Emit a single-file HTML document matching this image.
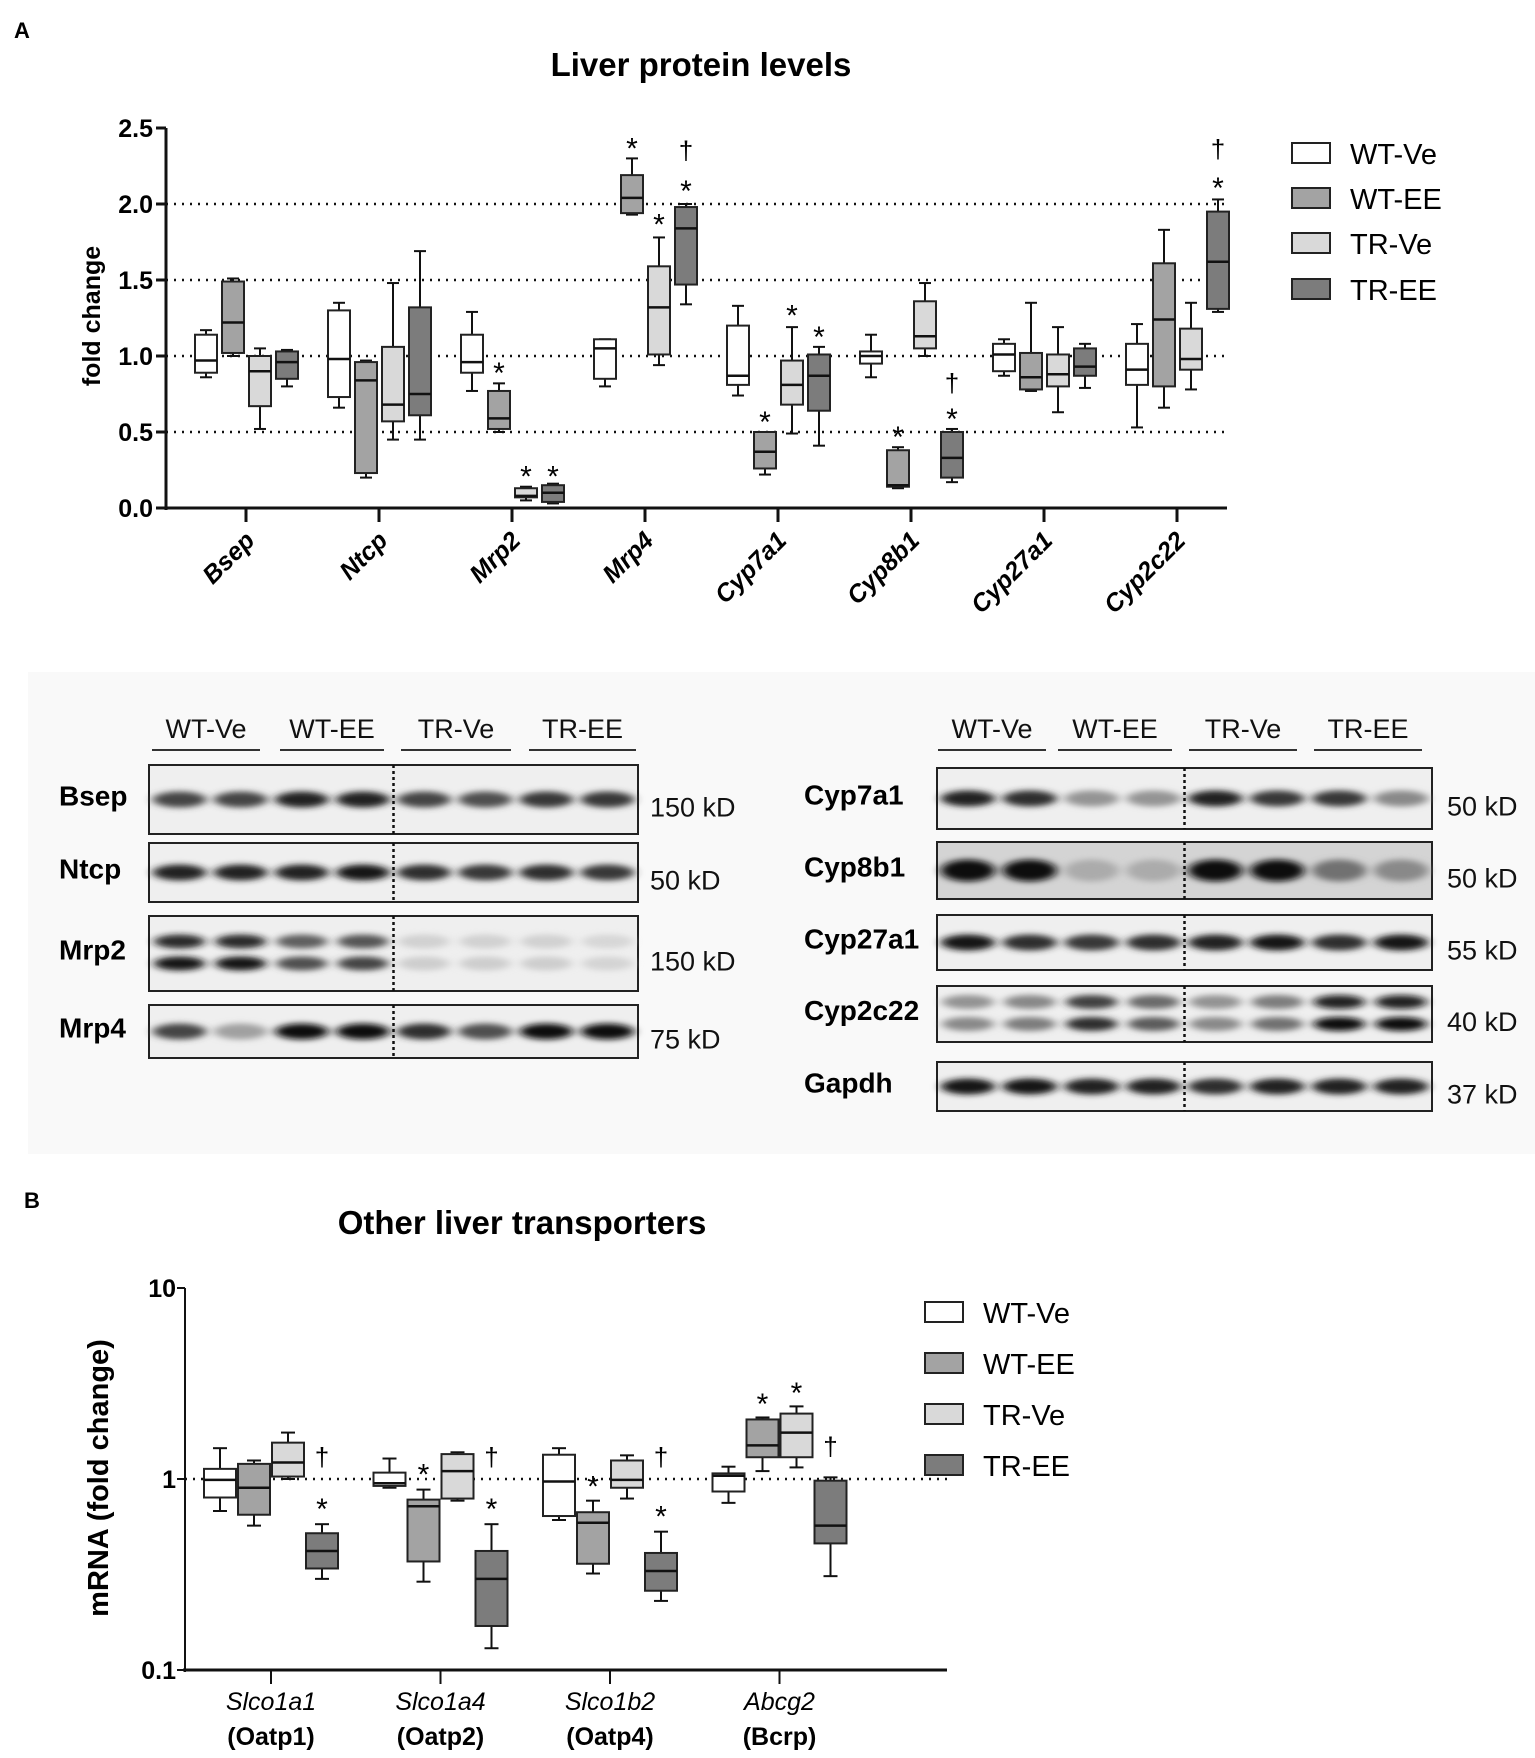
<!DOCTYPE html>
<html><head><meta charset="utf-8">
<style>
body{margin:0;background:#fff;}
svg{display:block;font-family:"Liberation Sans",Arial,sans-serif;}
</style></head>
<body>
<svg id="fig" width="1535" height="1758" viewBox="0 0 1535 1758">
<defs>
<filter id="blur" x="-30%" y="-100%" width="160%" height="300%"><feGaussianBlur stdDeviation="5 3"/></filter>
</defs>
<rect x="28" y="672" width="1507" height="482" fill="#f9f9f9"/>
<text x="14" y="38" font-size="22" font-weight="bold">A</text>
<text x="701" y="76" font-size="33" font-weight="bold" text-anchor="middle">Liver protein levels</text>
<text x="24" y="1208" font-size="22" font-weight="bold">B</text>
<text x="522" y="1234" font-size="33" font-weight="bold" text-anchor="middle">Other liver transporters</text>
<g id="chartA"></g>
<g id="chartB"></g>
<g id="blots"></g>
</svg>
<script>
const NS="http://www.w3.org/2000/svg";
function mk(p,tag,attrs,txt){const e=document.createElementNS(NS,tag);for(const k in attrs)e.setAttribute(k,attrs[k]);if(txt!==undefined)e.textContent=txt;p.appendChild(e);return e;}

const groups=["WT-Ve","WT-EE","TR-Ve","TR-EE"];
const fills=["#ffffff","#a3a3a3","#d9d9d9","#7c7c7c"];

// Chart A data
const catsA=["Bsep","Ntcp","Mrp2","Mrp4","Cyp7a1","Cyp8b1","Cyp27a1","Cyp2c22"];
const wtVeA=[[0.86,0.89,0.97,1.14,1.17],[0.66,0.73,0.98,1.30,1.35],[0.77,0.89,0.96,1.14,1.29],[0.80,0.85,1.05,1.11,1.11],[0.74,0.81,0.87,1.20,1.33],[0.86,0.95,1.00,1.03,1.14],[0.87,0.90,1.01,1.08,1.11],[0.53,0.81,0.91,1.08,1.21]];
const wtEeA=[[1.00,1.02,1.22,1.49,1.51],[0.20,0.23,0.84,0.96,0.97],[0.50,0.52,0.59,0.77,0.82],[1.93,1.94,2.04,2.19,2.30],[0.22,0.26,0.37,0.50,0.50],[0.13,0.14,0.15,0.38,0.40],[0.77,0.78,0.86,1.02,1.35],[0.66,0.80,1.24,1.61,1.83]];
const trVeA=[[0.52,0.67,0.90,1.00,1.05],[0.45,0.57,0.68,1.06,1.48],[0.05,0.07,0.08,0.13,0.14],[0.94,1.01,1.32,1.59,1.78],[0.49,0.68,0.81,0.97,1.19],[1.00,1.05,1.13,1.36,1.48],[0.63,0.80,0.88,1.01,1.19],[0.78,0.91,0.98,1.18,1.35]];
const trEeA=[[0.80,0.85,0.96,1.03,1.04],[0.45,0.61,0.75,1.32,1.69],[0.03,0.04,0.10,0.15,0.16],[1.34,1.47,1.84,1.98,2.00],[0.41,0.64,0.87,1.01,1.06],[0.17,0.20,0.33,0.50,0.52],[0.79,0.87,0.93,1.05,1.08],[1.29,1.31,1.62,1.95,2.03]];
const ticksA=[0,0.5,1.0,1.5,2.0,2.5];
const gridA=[0.5,1.0,1.5,2.0];
// annotations: [category index, group index, symbol, value]
const annA=[[2,1,"*",0.88],[2,2,"*",0.20],[2,3,"*",0.20],[3,1,"*",2.36],[3,2,"*",1.86],[3,3,"*",2.08],[3,3,"†",2.36],[4,1,"*",0.56],[4,2,"*",1.26],[4,3,"*",1.12],[5,1,"*",0.46],[5,3,"*",0.58],[5,3,"†",0.83],[7,3,"*",2.10],[7,3,"†",2.37]];

// Chart B data
const catsB=["Slco1a1","Slco1a4","Slco1b2","Abcg2"];
const subB=["(Oatp1)","(Oatp2)","(Oatp4)","(Bcrp)"];
const wtVeB=[[0.68,0.80,0.99,1.13,1.45],[0.90,0.92,0.95,1.08,1.28],[0.61,0.64,0.97,1.34,1.45],[0.75,0.86,1.04,1.07,1.16]];
const wtEeB=[[0.57,0.65,0.90,1.20,1.25],[0.29,0.37,0.72,0.78,0.88],[0.32,0.36,0.59,0.67,0.77],[1.10,1.30,1.50,2.05,2.10]];
const trVeB=[[1.00,1.03,1.22,1.55,1.75],[0.77,0.79,1.10,1.35,1.38],[0.79,0.90,0.99,1.25,1.33],[1.15,1.30,1.75,2.20,2.40]];
const trEeB=[[0.30,0.34,0.42,0.52,0.58],[0.13,0.17,0.30,0.42,0.58],[0.23,0.26,0.33,0.41,0.53],[0.31,0.46,0.57,0.98,1.02]];
const ticksB=[0.1,1,10];
const tickLabB=["0.1","1","10"];
const annB=[[0,3,"*",0.69],[0,3,"†",1.32],[1,1,"*",1.04],[1,3,"*",0.69],[1,3,"†",1.32],[2,1,"*",0.90],[2,3,"*",0.63],[2,3,"†",1.32],[3,1,"*",2.44],[3,2,"*",2.79],[3,3,"†",1.5]];

function drawBoxes(g,series,cats,xOf,yOf,offs,bw,cap){
  series.forEach((ser,gi)=>{
    ser.forEach((v,ci)=>{
      const cx=xOf(ci)+offs[gi];
      const bx=mk(g,"g",{});
      
      
      const st={stroke:"#111","stroke-width":2,fill:"none"};
      mk(bx,"line",Object.assign({x1:cx,x2:cx,y1:yOf(v[0]),y2:yOf(v[1])},st));
      mk(bx,"line",Object.assign({x1:cx,x2:cx,y1:yOf(v[3]),y2:yOf(v[4])},st));
      mk(bx,"line",Object.assign({x1:cx-cap,x2:cx+cap,y1:yOf(v[0]),y2:yOf(v[0])},st));
      mk(bx,"line",Object.assign({x1:cx-cap,x2:cx+cap,y1:yOf(v[4]),y2:yOf(v[4])},st));
      mk(bx,"rect",{x:cx-bw/2,y:yOf(v[3]),width:bw,height:yOf(v[1])-yOf(v[3]),fill:fills[gi],stroke:"#222","stroke-width":2});
      mk(bx,"line",{x1:cx-bw/2,x2:cx+bw/2,y1:yOf(v[2]),y2:yOf(v[2]),stroke:"#111","stroke-width":2.5});
    });
  });
}
function drawAnn(g,list,xOf,yOf,offs){
  list.forEach(a=>{
    const star=a[2]=="*";
    const t=mk(g,"text",{x:xOf(a[0])+offs[a[1]],y:yOf(a[3])+(star?9:10),"font-size":star?30:26,"text-anchor":"middle"},a[2]);
    
    
  });
}
function drawLegend(g,x,ys,fs){
  groups.forEach((n,i)=>{
    const e=mk(g,"g",{});
    
    
    mk(e,"rect",{x:x,y:ys[i]-11,width:38,height:20,fill:fills[i],stroke:"#222","stroke-width":2});
    mk(e,"text",{x:x+58,y:ys[i]+10,"font-size":fs},n);
  });
}

// ---- Chart A ----
(function(){
  const g=document.getElementById("chartA");
  const x0=166,x1=1227,y0=508,yTop=128;
  const yOf=v=>y0-(v/2.5)*(y0-yTop);
  const xOf=i=>246+i*133;
  gridA.forEach(v=>{const l=mk(g,"line",{x1:x0,x2:x1,y1:yOf(v),y2:yOf(v),stroke:"#111","stroke-width":2.5,"stroke-dasharray":"2 6"});
    });
  mk(g,"line",{x1:x0,x2:x0,y1:yTop,y2:y0+2,stroke:"#111","stroke-width":3});
  mk(g,"line",{x1:x0-2,x2:x1,y1:y0,y2:y0,stroke:"#111","stroke-width":3});
  ticksA.forEach(v=>{mk(g,"line",{x1:x0-10,x2:x0,y1:yOf(v),y2:yOf(v),stroke:"#111","stroke-width":3});
    const t=mk(g,"text",{x:x0-13,y:yOf(v)+9,"font-size":25,"font-weight":"bold","text-anchor":"end"},v.toFixed(1));
    });
  const yl=mk(g,"text",{x:0,y:0,"font-size":25,"font-weight":"bold","text-anchor":"middle",transform:"translate(100,316) rotate(-90)"},"fold change");
  
  catsA.forEach((c,i)=>{mk(g,"line",{x1:xOf(i),x2:xOf(i),y1:y0,y2:y0+14,stroke:"#111","stroke-width":3});
    const t=mk(g,"text",{x:0,y:0,"font-size":25,"font-weight":"bold","font-style":"italic","text-anchor":"end",transform:`translate(${xOf(i)+10},${y0+34}) rotate(-45)`},c);
    });
  const offs=[-40,-13,14,41];
  drawBoxes(g,[wtVeA,wtEeA,trVeA,trEeA],catsA,xOf,yOf,offs,22,6);
  drawAnn(g,annA,xOf,yOf,offs);
  drawLegend(g,1292,[154,199,244,290],29);
})();

// ---- Chart B ----
(function(){
  const g=document.getElementById("chartB");
  const x0=185,x1=947,y0=1670,yTop=1288;
  const yOf=v=>y0-(Math.log10(v)+1)/2*(y0-yTop);
  const xOf=i=>271+i*169.5;
  const rl=mk(g,"line",{x1:x0,x2:x1,y1:yOf(1),y2:yOf(1),stroke:"#111","stroke-width":2.5,"stroke-dasharray":"2 6"});
  
  mk(g,"line",{x1:x0,x2:x0,y1:yTop,y2:y0+2,stroke:"#111","stroke-width":2});
  mk(g,"line",{x1:x0-2,x2:x1,y1:y0,y2:y0,stroke:"#111","stroke-width":3});
  ticksB.forEach((v,i)=>{mk(g,"line",{x1:x0-8,x2:x0,y1:yOf(v),y2:yOf(v),stroke:"#111","stroke-width":2});
    const t=mk(g,"text",{x:x0-9,y:yOf(v)+9,"font-size":25,"font-weight":"bold","text-anchor":"end"},tickLabB[i]);
    });
  const yl=mk(g,"text",{x:0,y:0,"font-size":29,"font-weight":"bold","text-anchor":"middle",transform:"translate(108,1478) rotate(-90)"},"mRNA (fold change)");
  
  catsB.forEach((c,i)=>{mk(g,"line",{x1:xOf(i),x2:xOf(i),y1:y0,y2:y0+14,stroke:"#111","stroke-width":2});
    const t=mk(g,"text",{x:xOf(i),y:1710,"font-size":25,"font-style":"italic","text-anchor":"middle"},c);
    
    const s=mk(g,"text",{x:xOf(i),y:1745,"font-size":25,"font-weight":"bold","text-anchor":"middle"},subB[i]);
    });
  const offs=[-51,-17,17,51];
  drawBoxes(g,[wtVeB,wtEeB,trVeB,trEeB],catsB,xOf,yOf,offs,32,7);
  drawAnn(g,annB,xOf,yOf,offs);
  drawLegend(g,925,[1313,1364,1415,1466],29);
})();

// ---- Blots ----
const leftBlots=["Bsep","Ntcp","Mrp2","Mrp4"];
const leftKd=["150 kD","50 kD","150 kD","75 kD"];
const leftInt=[[0.75,0.75,0.9,0.9,0.75,0.7,0.8,0.8],[0.9,0.9,0.9,0.95,0.85,0.8,0.85,0.8],[0.95,0.95,0.7,0.75,0.15,0.15,0.15,0.12],[0.75,0.35,1,1,0.85,0.7,1,1]];
const rightBlots=["Cyp7a1","Cyp8b1","Cyp27a1","Cyp2c22","Gapdh"];
const rightKd=["50 kD","50 kD","55 kD","40 kD","37 kD"];
const rightInt=[[0.9,0.85,0.4,0.4,0.9,0.8,0.8,0.45],[1,1,0.3,0.3,1,1,0.55,0.45],[0.95,0.85,0.8,0.85,0.9,0.95,0.85,0.95],[0.45,0.5,0.85,0.65,0.45,0.55,1,1],[0.95,0.95,0.9,0.9,0.85,0.9,0.9,0.9]];
(function(){
  const g=document.getElementById("blots");
  function side(x0,x1,rows,names,kds,ints,labX,kdX,heads){
    heads.forEach((h,i)=>{
      const t=mk(g,"text",{x:(h[0]+h[1])/2,y:738,"font-size":27,"text-anchor":"middle",fill:"#111"},groups[i]);
      
      mk(g,"line",{x1:h[0],x2:h[1],y1:750,y2:750,stroke:"#333","stroke-width":2});
    });
    rows.forEach((r,ri)=>{
      const bg=mk(g,"g",{});
      
      
      const dark=names[ri]=="Cyp8b1";
      mk(bg,"rect",{x:x0,y:r[0],width:x1-x0,height:r[1]-r[0],fill:dark?"#d4d4d4":"#efefef",stroke:"#222","stroke-width":2});
      const lw=(x1-x0)/8, cy=(r[0]+r[1])/2;
      ints[ri].forEach((v,li)=>{
        const c=Math.round(240-v*230);
        if(names[ri]=="Mrp2"||names[ri]=="Cyp2c22"){
          mk(bg,"ellipse",{cx:x0+lw*(li+0.5),cy:cy-12,rx:lw*0.42,ry:7,fill:`rgb(${c},${c},${c})`,filter:"url(#blur)",opacity:0.9});
          mk(bg,"ellipse",{cx:x0+lw*(li+0.5),cy:cy+10,rx:lw*0.42,ry:7,fill:`rgb(${c},${c},${c})`,filter:"url(#blur)"});
        } else {
          mk(bg,"ellipse",{cx:x0+lw*(li+0.5),cy:cy,rx:lw*0.44,ry:dark?11:8,fill:`rgb(${c},${c},${c})`,filter:"url(#blur)"});
        }
      });
      mk(bg,"line",{x1:x0+lw*4,x2:x0+lw*4,y1:r[0],y2:r[1],stroke:"#111","stroke-width":2.5,"stroke-dasharray":"3 3"});
      const lt=mk(g,"text",{x:labX,y:cy+6,"font-size":28,"font-weight":"bold"},names[ri]);
      
      const kt=mk(g,"text",{x:kdX,y:cy+17,"font-size":27,fill:"#111"},kds[ri]);
      
    });
  }
  side(149,638,[[765,834],[843,902],[916,991],[1005,1058]],leftBlots,leftKd,leftInt,59,650,[[152,260],[280,384],[401,511],[529,636]]);
  side(937,1432,[[768,829],[842,899],[915,970],[986,1042],[1062,1111]],rightBlots,rightKd,rightInt,804,1447,[[938,1046],[1058,1172],[1189,1297],[1314,1422]]);
})();
</script>
</body></html>
